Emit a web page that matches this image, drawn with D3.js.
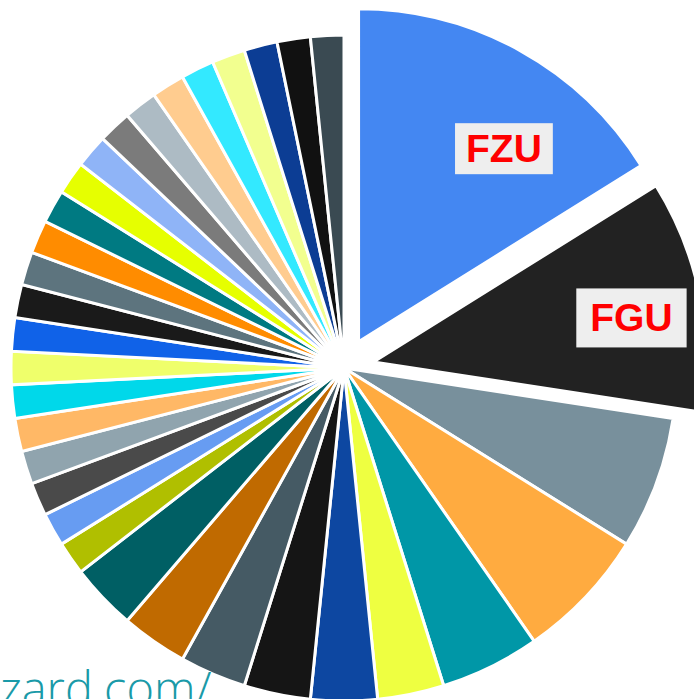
<!DOCTYPE html>
<html>
<head>
<meta charset="utf-8">
<script src="https://cdn.jsdelivr.net/npm/d3@7"></script>
<style>
    html, body { margin: 0; padding: 0; background: #fff; overflow: hidden; }
    svg { display: block; }
</style>
</head>
<body>
<svg></svg>
<script>
// slice values (clockwise from 12 o'clock)
const sliceValues = [10, 7, 4, 4, 3,
    2, 2, 2, 2, 2, 2,
    1, 1, 1, 1, 1, 1, 1, 1, 1, 1, 1,
    1, 1, 1, 1, 1, 1, 1, 1, 1, 1, 1];

// only the two pulled-out slices carry a label
const sliceLabels = ["FZU", "FGU"];

const sliceColors = ["#4487f2", "#222222", "#78909c", "#ffab40", "#0097a7",
    "#eeff41", "#0d47a1", "#151515", "#455a64", "#c06a00", "#005f64",
    "#b0bf00", "#679cf2", "#4a4a4a", "#90a4ae", "#ffb866", "#00d8ea", "#efff6b", "#1062e8",
    "#1a1a1a", "#5d747e", "#ff8c00", "#007a82", "#e6ff00", "#8fb4f7", "#7b7b7b",
    "#adbbc4", "#ffcc8f", "#33e9ff", "#f2ff8f", "#0c3d94", "#111111", "#3a4a52"];

const watermark = "zard.com/";

const pie_chart = {
    init: function (width, height) {
        this.width = width;
        this.height = height;
        this.draw(sliceValues, width, height);
    },

    draw: function (data, width, height) {
        var radius = 333;
        var explode = 30;

        var svg = d3.select('svg')
            .attr('width', width)
            .attr('height', height);

        // pie centre sits a bit left of the middle, the big slice is pushed out
        var g = svg.append('g')
            .attr('transform', 'translate(' + 344 + ',' + 368 + ')');

        var pie = d3.pie().sort(null).value(d => d);
        var arcs = pie(data);

        var arc = d3.arc()
            .innerRadius(0)
            .outerRadius(radius);

        var color = d3.scaleOrdinal().domain(d3.range(data.length)).range(sliceColors);

        var shift = function (d) {
            if (!sliceLabels[d.index]) return [0, 0];
            var mid = (d.startAngle + d.endAngle) / 2;
            return [Math.sin(mid) * explode, -Math.cos(mid) * explode];
        };

        g.selectAll('path')
            .data(arcs)
            .enter().append('path')
            .attr('d', arc)
            .attr('transform', d => 'translate(' + shift(d) + ')')
            .style('fill', d => color(d.index))
            .style('stroke', '#fff')
            .style('stroke-width', 3);

        // labels: text starts on the slice's middle ray, grey box behind it
        var labelArc = d3.arc()
            .innerRadius(radius * 0.665)
            .outerRadius(radius * 0.665);

        var labels = g.selectAll('g.label')
            .data(arcs.filter(d => sliceLabels[d.index]))
            .enter().append('g')
            .attr('class', 'label')
            .attr('transform', function (d) {
                var c = labelArc.centroid(d);
                var s = shift(d);
                return 'translate(' + (c[0] + s[0]) + ',' + (c[1] + s[1]) + ')';
            });

        var rects = labels.append('rect')
            .style('fill', '#eeeeee');

        var texts = labels.append('text')
            .attr('dy', '0.36em')
            .style('font', 'bold 39px "Liberation Sans", Arial, sans-serif')
            .style('fill', '#ff0000')
            .text(d => sliceLabels[d.index]);

        texts.each(function (d, i) {
            var b = this.getBBox();
            var padX = 11 + i * 3, padY = 4 + i * 4;
            d3.select(rects.nodes()[i])
                .attr('x', b.x - padX)
                .attr('y', b.y - padY)
                .attr('width', b.width + padX * 2)
                .attr('height', b.height + padY * 2);
        });

        // site address, cut off by the bottom-left corner
        svg.append('text')
            .attr('x', 0)
            .attr('y', height + 7)
            .style('font', '300 47px "Open Sans", sans-serif')
            .style('fill', '#1a9aa8')
            .text(watermark);
    }
}

document.addEventListener("DOMContentLoaded", function () {
    pie_chart.init(694, 699);
});
</script>
</body>
</html>
